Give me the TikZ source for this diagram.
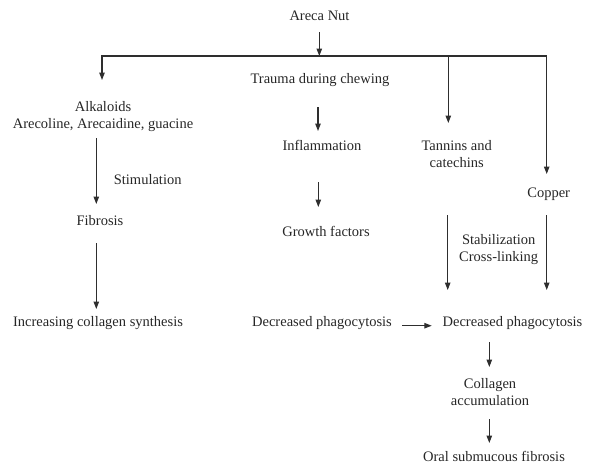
\documentclass[tikz,border=0pt]{standalone}
\usepackage{fontspec}
\setmainfont{Liberation Serif}
\usetikzlibrary{arrows.meta,calc}
\begin{document}
\begin{tikzpicture}[x=1pt,y=-1pt,
  lbl/.style={font=\fontsize{14.5}{17}\selectfont, inner sep=0pt, align=center, text=black!85},
  ln/.style={line width=1.1pt, draw=black!82},
  arr/.style={ln, -{Triangle[length=7.5pt,width=5.5pt]}}]
\useasboundingbox (0,0) rectangle (596,467);
% nodes
\node[lbl] (areca) at (319.5,17) {\strut Areca Nut};
\node[lbl] (tr) at (320,80) {\strut Trauma during chewing};
\node[lbl] (inf) at (322,147) {\strut Inflammation};
\node[lbl] (gf) at (326,233) {\strut Growth factors};
\node[lbl] (tann) at (456.7,155.5) {\strut Tannins and\\\strut catechins};
\node[lbl] (cop) at (548.7,194) {\strut Copper};
\node[lbl] (stab) at (498.7,250) {\strut Stabilization\\\strut Cross-linking};
\node[lbl] (alk) at (103,116.5) {\strut Alkaloids\\\strut Arecoline, Arecaidine, guacine};
\node[lbl] (stim) at (147.7,181) {\strut Stimulation};
\node[lbl] (fib) at (100,222) {\strut Fibrosis};
\node[lbl] (incr) at (98,323) {\strut Increasing collagen synthesis};
\node[lbl] (decl) at (322,323.5) {\strut Decreased phagocytosis};
\node[lbl] (decr) at (512.5,323.5) {\strut Decreased phagocytosis};
\node[lbl] (coll) at (490,393.3) {\strut Collagen\\\strut accumulation};
\node[lbl] (osf) at (494,458.5) {\strut Oral submucous fibrosis};
% spine
\coordinate (spL) at (102,56);
\coordinate (spR) at (546.7,56);
\coordinate (arTop) at ($(areca)+(-0.2,15)$);
\coordinate (taTop) at ($(tann)+(-8.4,-32.5)$);
\draw[ln] ([xshift=-0.55pt]spL) -- ([xshift=0.55pt]spR);
\draw[arr] (arTop) -- (arTop |- spL);
\draw[arr] (spL) -- ($(alk)+(-1,-36.5)$);
\draw[arr] (taTop |- spL) -- (taTop);
\draw[arr] (spR) -- ($(cop)+(-2,-20)$);
% middle column
\draw[arr] ($(tr)+(-2,27)$) -- ($(inf)+(-4,-16)$);
\draw[arr] ($(inf)+(-3.7,35)$) -- ($(gf)+(-7.7,-26)$);
% left column
\draw[arr] ($(alk)+(-6.7,21.5)$) -- ($(fib)+(-3.7,-18)$);
\draw[arr] ($(fib)+(-3.7,21)$) -- ($(incr)+(-1.7,-14)$);
% right columns
\draw[arr] ($(tann)+(-9,59.5)$) -- ($(decr)+(-64.8,-33.5)$);
\draw[arr] ($(cop)+(-2,21)$) -- ($(decr)+(34.2,-33.5)$);
\draw[arr] ($(decl.east)+(10,2.2)$) -- ($(decr.west)+(-10.7,2.2)$);
\draw[arr] ($(decr)+(-23.2,18.5)$) -- ($(coll)+(-0.7,-26.3)$);
\draw[arr] ($(coll)+(-0.7,26)$) -- ($(osf)+(-4.7,-15.5)$);
\end{tikzpicture}
\end{document}
